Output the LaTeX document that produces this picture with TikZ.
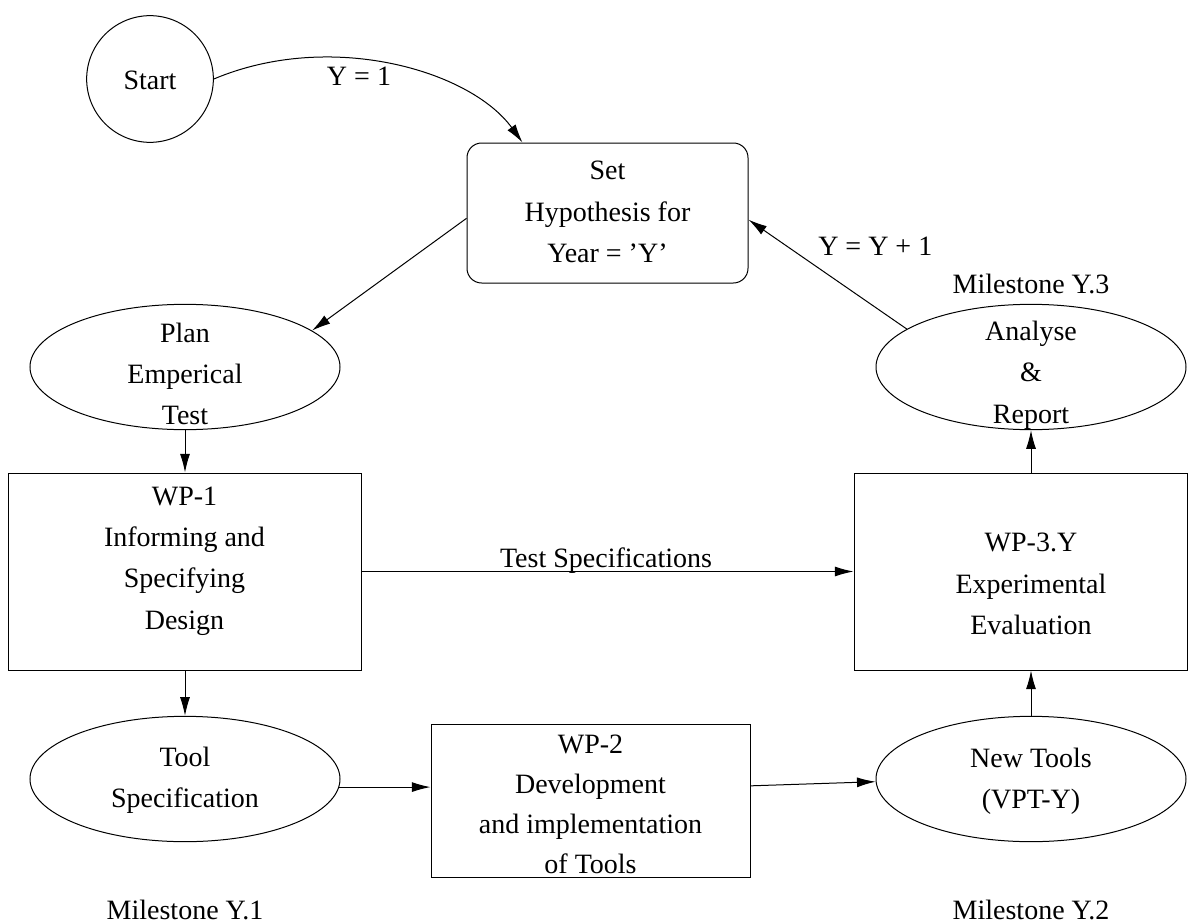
\documentclass[tikz,border=0pt]{standalone}
\usepackage{fontspec}
\setmainfont{Liberation Serif}
\usetikzlibrary{arrows.meta,shapes.geometric}
\tikzset{
  lin/.style={line width=0.75pt},
  arr/.style={lin,-{Latex[length=14pt,width=7.5pt]}},
  oval/.style={ellipse,draw,lin,inner sep=0pt,minimum width=232.5pt,minimum height=94pt},
  boxx/.style={rectangle,draw,lin,inner sep=0pt},
  txt/.style={inner sep=0pt,align=center,font=\fontsize{21}{31}\selectfont},
}
\begin{document}
\begin{tikzpicture}[x=0.75pt,y=-0.75pt]
\useasboundingbox (0,0) rectangle (1196,924);
% shapes
\node[circle,draw,lin,inner sep=0pt,minimum size=95pt] (start) at (150,79) {};
\node[boxx,rounded corners=11pt,minimum width=210.75pt,minimum height=105pt] (set) at (607.5,213) {};
\node[oval] (plan) at (185,367) {};
\node[oval] (anal) at (1031,367) {};
\node[boxx,minimum width=264.75pt,minimum height=147.75pt] (wp1) at (184.5,571.5) {};
\node[boxx,minimum width=249.75pt,minimum height=147.75pt] (wp3) at (1020.5,571.5) {};
\node[oval] (tool) at (185,779) {};
\node[boxx,minimum width=239.25pt,minimum height=114.75pt] (wp2) at (590.5,800.5) {};
\node[oval] (newt) at (1031,779) {};
% texts
\node[txt] (startT) at (150,80) {Start};
\node[txt] (setT) at (607.5,212) {Set\\Hypothesis for\\Year = ’Y’};
\node[txt] (planT) at (185,374) {Plan\\Emperical\\Test};
\node[txt] (analT) at (1031,375) {Analyse\\\&\\Report};
\node[txt] (wp1T) at (184.5,561) {WP-1\\Informing and\\Specifying\\Design};
\node[txt] (wp3T) at (1031,584) {WP-3.Y\\Experimental\\Evaluation};
\node[txt] (toolT) at (185,780) {Tool\\Specification};
\node[txt,font=\fontsize{21}{30}\selectfont] (wp2T) at (590.5,804) {WP-2\\Development\\and implementation\\of Tools};
\node[txt] (newtT) at (1031,781) {New Tools\\(VPT-Y)};
\node[txt,anchor=base] (m1) at (185,919) {Milestone Y.1};
\node[txt,anchor=base] (m2) at (1031,919) {Milestone Y.2};
\node[txt,anchor=base] (m3) at (1031,293) {Milestone Y.3};
% connectors
\draw[arr] (start.east) .. controls (330,30) and (470,70) .. ([xshift=42pt]set.north west);
\node[txt,anchor=base] (y1) at (359,85) {Y = 1};
\draw[arr] ([yshift=-4pt]set.west) -- (plan.16);
\draw[arr] (anal.163) -- ([yshift=-5pt]set.east);
\node[txt,anchor=base west] (yy) at (818,255) {Y = Y + 1};
\draw[arr] (plan.south) -- (wp1.north -| plan.south);
\draw[arr] (wp1.east) -- (wp1.east -| wp3.west);
\node[txt,anchor=base] (ts) at (606,567) {Test Specifications};
\draw[arr] (wp1.south -| tool.north) -- (tool.north);
\draw[arr] (tool.357) -- (tool.357 -| wp2.west);
\draw[arr] ([yshift=11pt]wp2.east) -- (newt.181);
\draw[arr] (newt.north) -- (newt.north |- wp3.south);
\draw[arr] (wp3.north -| anal.south) -- (anal.south);
\end{tikzpicture}
\end{document}
